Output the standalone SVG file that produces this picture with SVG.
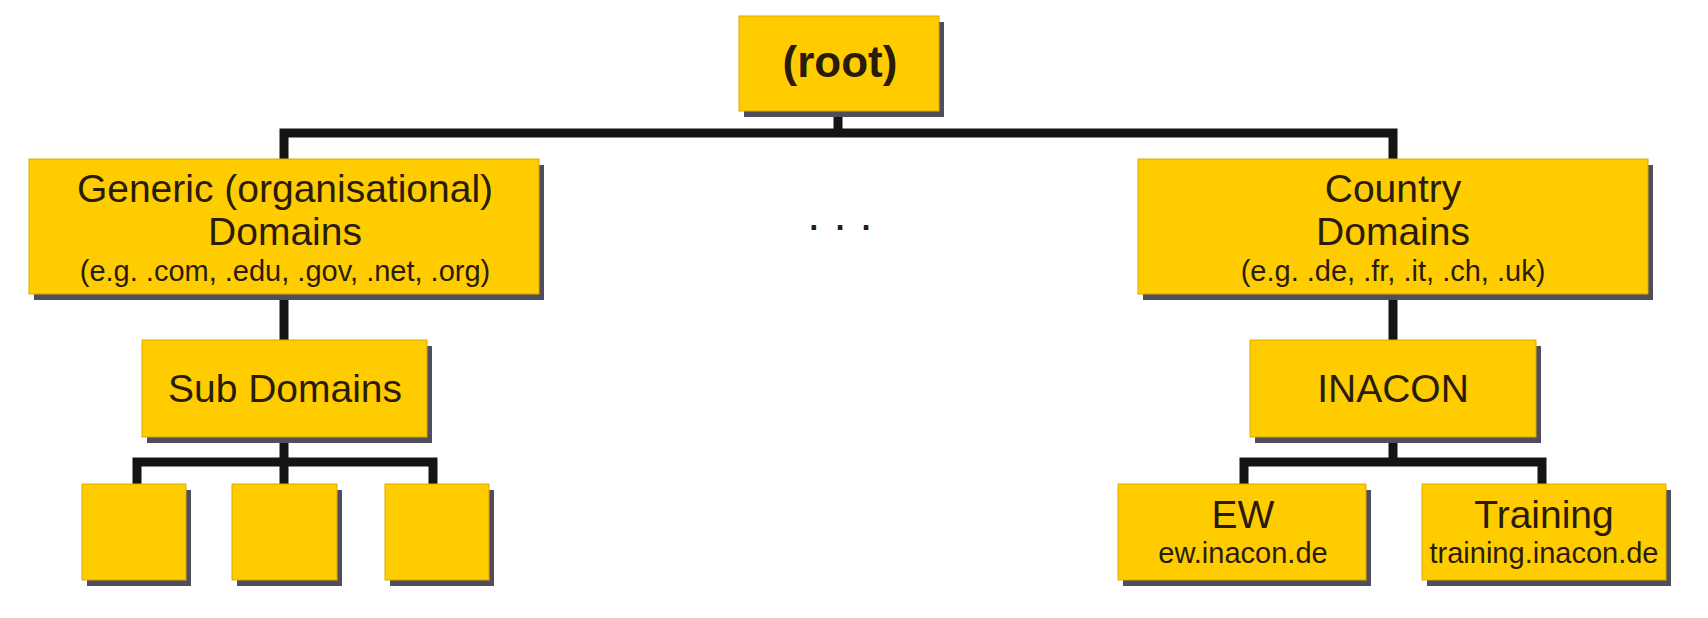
<svg xmlns="http://www.w3.org/2000/svg" width="1708" height="618" viewBox="0 0 1708 618">
<style>
.box{fill:#FFCC00;stroke:#dcaa00;stroke-width:1}
.sh{fill:#4f4d5e}
.t{font-family:"Liberation Sans",Arial,Helvetica,sans-serif;fill:#2a1c0c;text-anchor:middle}
.big{font-size:39px}
.small{font-size:29px}
.root{font-size:44px;font-weight:bold}
.ln{fill:none;stroke:#141414;stroke-width:9;stroke-linejoin:miter;stroke-linecap:butt}
</style>
<rect width="1708" height="618" fill="#ffffff"/>
<g id="connectors">
<path class="ln" d="M838 111 V133"/>
<path class="ln" d="M284 159 V133 H1393 V159"/>
<path class="ln" d="M284 294 V340"/>
<path class="ln" d="M284 437 V484"/>
<path class="ln" d="M137 484 V462 H433 V484"/>
<path class="ln" d="M1393 294 V340"/>
<path class="ln" d="M1393 437 V462"/>
<path class="ln" d="M1244 484 V462 H1542 V484"/>
</g>
<g id="root">
<rect class="sh" x="744" y="22" width="200" height="95"/>
<rect class="box" x="739" y="16" width="200" height="95"/>
<text class="t root" x="840" y="77">(root)</text>
</g>
<g id="generic">
<rect class="sh" x="34" y="165" width="510" height="135"/>
<rect class="box" x="29" y="159" width="510" height="135"/>
<text class="t big" x="285" y="202">Generic (organisational)</text>
<text class="t big" x="285" y="245">Domains</text>
<text class="t small" x="285" y="281">(e.g. .com, .edu, .gov, .net, .org)</text>
</g>
<g id="dots">
<text class="t" x="840" y="230" style="font-size:47px">. . .</text>
</g>
<g id="country">
<rect class="sh" x="1143" y="165" width="510" height="135"/>
<rect class="box" x="1138" y="159" width="510" height="135"/>
<text class="t big" x="1393" y="202">Country</text>
<text class="t big" x="1393" y="245">Domains</text>
<text class="t small" x="1393" y="281">(e.g. .de, .fr, .it, .ch, .uk)</text>
</g>
<g id="subdomains">
<rect class="sh" x="147" y="346" width="285" height="97"/>
<rect class="box" x="142" y="340" width="285" height="97"/>
<text class="t big" x="285" y="402">Sub Domains</text>
</g>
<g id="leaf1">
<rect class="sh" x="87" y="490" width="104" height="96"/>
<rect class="box" x="82" y="484" width="104" height="96"/>
</g>
<g id="leaf2">
<rect class="sh" x="237" y="490" width="105" height="96"/>
<rect class="box" x="232" y="484" width="105" height="96"/>
</g>
<g id="leaf3">
<rect class="sh" x="390" y="490" width="104" height="96"/>
<rect class="box" x="385" y="484" width="104" height="96"/>
</g>
<g id="inacon">
<rect class="sh" x="1255" y="346" width="286" height="97"/>
<rect class="box" x="1250" y="340" width="286" height="97"/>
<text class="t big" x="1393" y="402">INACON</text>
</g>
<g id="ew">
<rect class="sh" x="1123" y="490" width="248" height="96"/>
<rect class="box" x="1118" y="484" width="248" height="96"/>
<text class="t big" x="1243" y="528">EW</text>
<text class="t small" x="1243" y="563">ew.inacon.de</text>
</g>
<g id="training">
<rect class="sh" x="1427" y="490" width="244" height="96"/>
<rect class="box" x="1422" y="484" width="244" height="96"/>
<text class="t big" x="1544" y="528">Training</text>
<text class="t small" x="1544" y="563">training.inacon.de</text>
</g>
</svg>
